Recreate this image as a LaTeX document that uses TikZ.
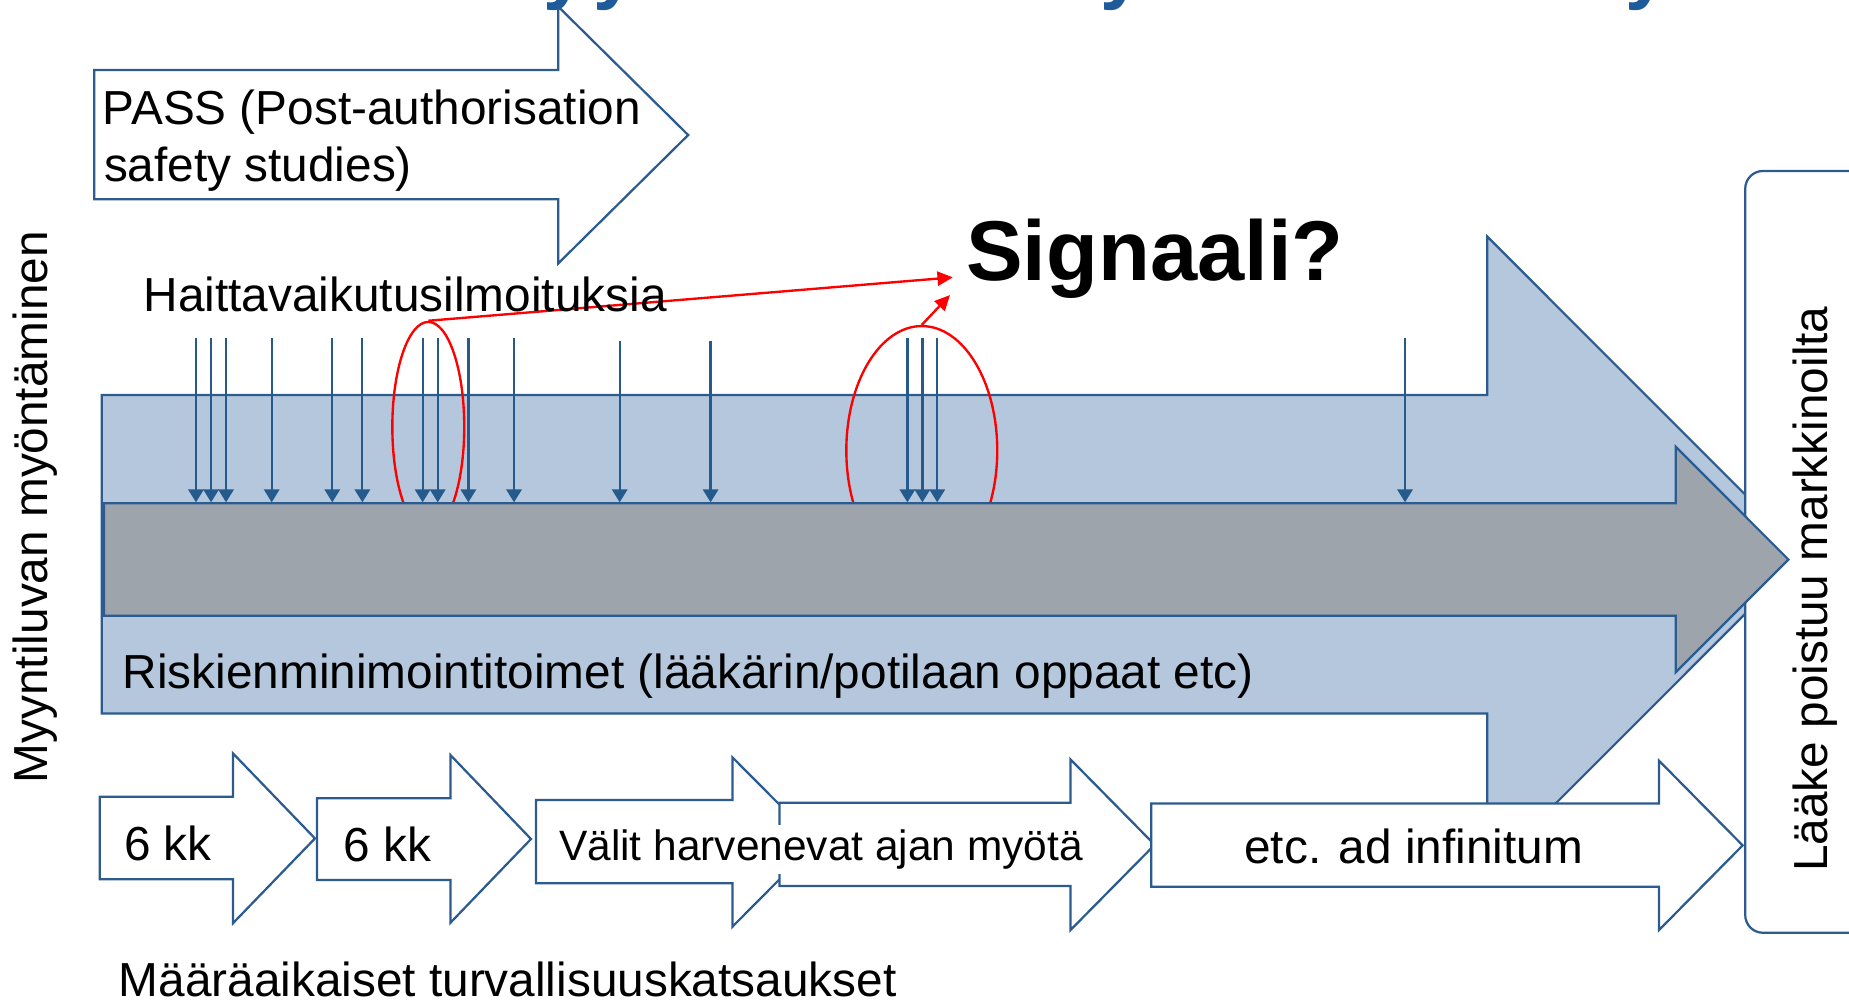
\documentclass[tikz,border=0pt]{standalone}
\usepackage{fontspec}
\setmainfont{Liberation Sans}
\usetikzlibrary{arrows.meta,shapes.geometric}
\definecolor{outl}{HTML}{2C5C8F}
\definecolor{arrb}{HTML}{245A8C}
\definecolor{lblue}{HTML}{B4C7DC}
\definecolor{dgrey}{HTML}{9DA4AC}
\definecolor{titleb}{HTML}{1F5A9A}
\begin{document}
\begin{tikzpicture}[x=1pt,y=-1pt,
  shp/.style={draw=outl,line width=1.9pt,line join=miter},
  lbl/.style={inner sep=0pt,anchor=base west,font=\fontsize{40.5}{48}\selectfont},
  vlbl/.style={inner sep=0pt,anchor=base,rotate=90,font=\fontsize{40.5}{48}\selectfont},
  ell/.style={ellipse,draw=red,line width=2pt,inner sep=0pt},
  redc/.style={red,line width=2pt,-{Triangle[length=13pt,width=12pt]}},
  reps/.style={arrb,line width=1.9pt,-{Triangle[length=11pt,width=13pt]}},
  ttl/.style={inner sep=0pt,anchor=base west,text=titleb,font=\fontsize{66}{70}\selectfont\bfseries}]
\useasboundingbox (0,0) rectangle (1568,851);
\clip (0,0) rectangle (1568,851);

% cut-off title descenders
\node[ttl] (ty1) at (461,-5) {y};
\node[ttl] (ty2) at (503,-5) {y};
\node[ttl] (ty3) at (933,-5) {y};
\node[ttl] (ty4) at (1378,-5) {y};

% PASS arrow
\draw[shp,fill=white] (80,59.4) -- (473.5,59.4) -- (473.5,5.7) -- (583.6,114.5)
  -- (473.5,223.3) -- (473.5,169) -- (80,169) -- cycle;
\node[lbl] (pass1) at (87,106) {PASS (Post-authorisation};
\node[lbl] (pass2) at (88,154) {safety studies)};

% big light blue arrow
\draw[shp,fill=lblue] (86.2,335) -- (1261.3,335) -- (1261.3,200.7) -- (1530.5,470)
  -- (1261.3,739.3) -- (1261.3,605) -- (86.2,605) -- cycle;

% red ellipses
\node[ell,minimum width=61pt,minimum height=178pt] (e1) at (363.2,362) {};
\node[ell,minimum width=128pt,minimum height=211pt] (e2) at (781.7,382) {};

% right box
\draw[shp,fill=white,rounded corners=15pt] (1480,145) rectangle (1640,791);

% grey arrow
\draw[shp,fill=dgrey] (88.2,426.8) -- (1421,426.8) -- (1421,378.8) -- (1516.6,474.5)
  -- (1421,570.2) -- (1421,522.1) -- (88.2,522.1) -- cycle;

% adverse event report arrows
\foreach \i/\x/\y in {1/166.2/287,2/179/287,3/191.7/287,4/230.4/287,5/281.8/287,6/307.3/287,
  7/358.4/287,8/371.2/287,9/397.2/287,10/435.9/287,11/525.5/289,12/602.6/289,
  13/769.5/287,14/782.2/287,15/794.8/287,16/1191.5/287}{
  \coordinate (s\i) at (\x,\y);
  \coordinate (t\i) at (\x,426);
  \draw[reps] (s\i) -- (t\i);
}

% red connectors to Signaali
\node[inner sep=0pt,anchor=base west,font=\fontsize{72}{80}\selectfont\bfseries] (sig) at (819,237.5) {Signaali?};
\coordinate (sg1) at (808,235.2);
\coordinate (sg2) at (805.6,250.2);
\draw[redc] (e1.north) -- (sg1);
\draw[redc] (e2.north) -- (sg2);

\node[lbl] (hait) at (121.7,264.3) {Haittavaikutusilmoituksia};
\node[lbl] (risk) at (104,583.7) {Riskienminimointitoimet (lääkärin/potilaan oppaat etc)};

% periodic safety report arrows
\draw[shp,fill=white] (84.5,675.6) -- (197.5,675.6) -- (197.5,638.8) -- (267.1,711)
  -- (197.5,783) -- (197.5,745.7) -- (84.5,745.7) -- cycle;
\draw[shp,fill=white] (268.9,677) -- (382,677) -- (382,640.3) -- (450.3,711.5)
  -- (382,782.5) -- (382,746.3) -- (268.9,746.3) -- cycle;
\draw[shp,fill=white] (454.5,678.4) -- (621.1,678.4) -- (621.1,642.2) -- (692.5,714)
  -- (621.1,785.9) -- (621.1,749) -- (454.5,749) -- cycle;
\draw[shp,fill=white] (661,680.7) -- (907.8,680.7) -- (907.8,644) -- (979.2,716.4)
  -- (907.8,788.7) -- (907.8,751.4) -- (661,751.4) -- cycle;
\draw[shp,fill=white] (976.2,681.3) -- (1406.9,681.3) -- (1406.9,645.1) -- (1477.8,716.9)
  -- (1406.9,788.7) -- (1406.9,752) -- (976.2,752) -- cycle;

\node[lbl] (kk1) at (105,729.5) {6 kk};
\node[lbl] (kk2) at (291,730.7) {6 kk};
\node[lbl,font=\fontsize{36}{42}\selectfont,fill=white,inner ysep=4pt] (valit) at (474,729.5) {Välit harvenevat ajan myötä};
\node[lbl] (etc) at (1055,732) {etc. ad infinitum};
\node[lbl] (maar) at (100.5,845.2) {Määräaikaiset turvallisuuskatsaukset};

\node[vlbl] (myynti) at (40.6,430) {Myyntiluvan myöntäminen};
\node[vlbl] (laake) at (1550,499.6) {Lääke poistuu markkinoilta};
\end{tikzpicture}
\end{document}
